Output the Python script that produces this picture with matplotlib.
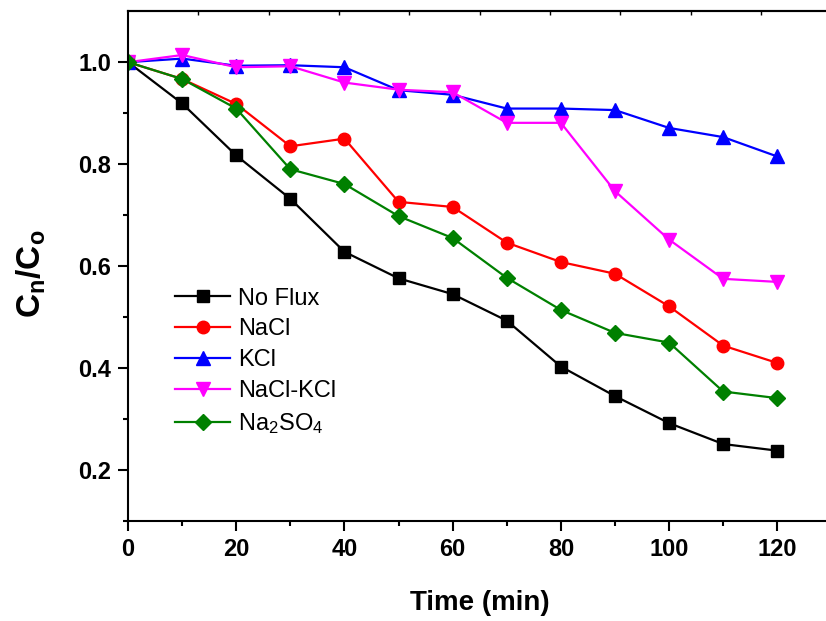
import matplotlib
matplotlib.use("Agg")
from matplotlib import pyplot as plt
from matplotlib.ticker import MultipleLocator, FixedLocator

plt.rcParams['font.family'] = ['Liberation Sans', 'DejaVu Sans']
plt.rcParams['mathtext.default'] = 'regular'

time = [0, 10, 20, 30, 40, 50, 60, 70, 80, 90, 100, 110, 120]
no_flux = [1.0, 0.919, 0.817, 0.732, 0.628, 0.576, 0.545, 0.493, 0.403, 0.345, 0.292, 0.251, 0.238]
nacl = [1.0, 0.967, 0.918, 0.835, 0.850, 0.726, 0.716, 0.646, 0.608, 0.585, 0.521, 0.444, 0.410]
kcl = [1.0, 1.007, 0.993, 0.994, 0.990, 0.945, 0.936, 0.909, 0.909, 0.906, 0.871, 0.853, 0.815]
nacl_kcl = [1.0, 1.014, 0.990, 0.992, 0.960, 0.946, 0.941, 0.881, 0.881, 0.747, 0.652, 0.575, 0.569]
na2so4 = [1.0, 0.967, 0.909, 0.790, 0.761, 0.698, 0.655, 0.577, 0.514, 0.469, 0.450, 0.354, 0.341]

series = [
    (no_flux, 'No Flux', 'black', 's', 8),
    (nacl, 'NaCl', 'red', 'o', 9),
    (kcl, 'KCl', 'blue', '^', 10),
    (nacl_kcl, 'NaCl-KCl', 'magenta', 'v', 10),
    (na2so4, 'Na$_2$SO$_4$', 'green', 'D', 8),
]

fig = plt.figure(figsize=(8.26, 6.21), dpi=100)
ax = fig.add_axes([0.155, 0.161, 0.845, 0.821])

for y, lab, c, m, ms in series:
    ax.plot(time, y, color=c, marker=m, markersize=ms, linewidth=1.6, label=lab)

ax.set_xlim(0, 129)
ax.set_ylim(0.1, 1.1)
ax.xaxis.set_major_locator(MultipleLocator(20))
ax.xaxis.set_minor_locator(MultipleLocator(10))
ax.yaxis.set_major_locator(FixedLocator([0.2, 0.4, 0.6, 0.8, 1.0]))
ax.yaxis.set_minor_locator(FixedLocator([0.1, 0.3, 0.5, 0.7, 0.9]))
ax.tick_params(which='major', direction='out', length=7, width=1.5, labelsize=17)
ax.tick_params(which='minor', direction='out', length=3.6, width=1.5)
ax.tick_params(axis='x', which='major', pad=5)
ax.tick_params(axis='y', which='major', pad=5)
for t in ax.get_xticklabels() + ax.get_yticklabels():
    t.set_fontweight('bold')

for s in ['left', 'bottom', 'top']:
    ax.spines[s].set_linewidth(1.5)
ax.spines['right'].set_visible(False)

# top axis ticks (no labels)
top = ax.secondary_xaxis('top')
top.set_xticks([13, 26, 39, 52, 65, 78, 91, 104, 117])
top.tick_params(direction='in', length=3, width=1, labeltop=False)
top.spines['top'].set_linewidth(1.5)

ax.set_xlabel('Time (min)', fontsize=20, fontweight='bold')
ax.set_ylabel('C$_n$/C$_o$', fontsize=24, fontweight='bold')
ax.xaxis.set_label_coords(0.504, -0.135)
ax.yaxis.set_label_coords(-0.115, 0.486)

ax.legend(loc='upper left', bbox_to_anchor=(0.067, 0.458), frameon=False, fontsize=17,
          borderpad=0, borderaxespad=0, handlelength=2.35, handletextpad=0.34,
          labelspacing=0.38)

fig.savefig('out.png', dpi=100)
